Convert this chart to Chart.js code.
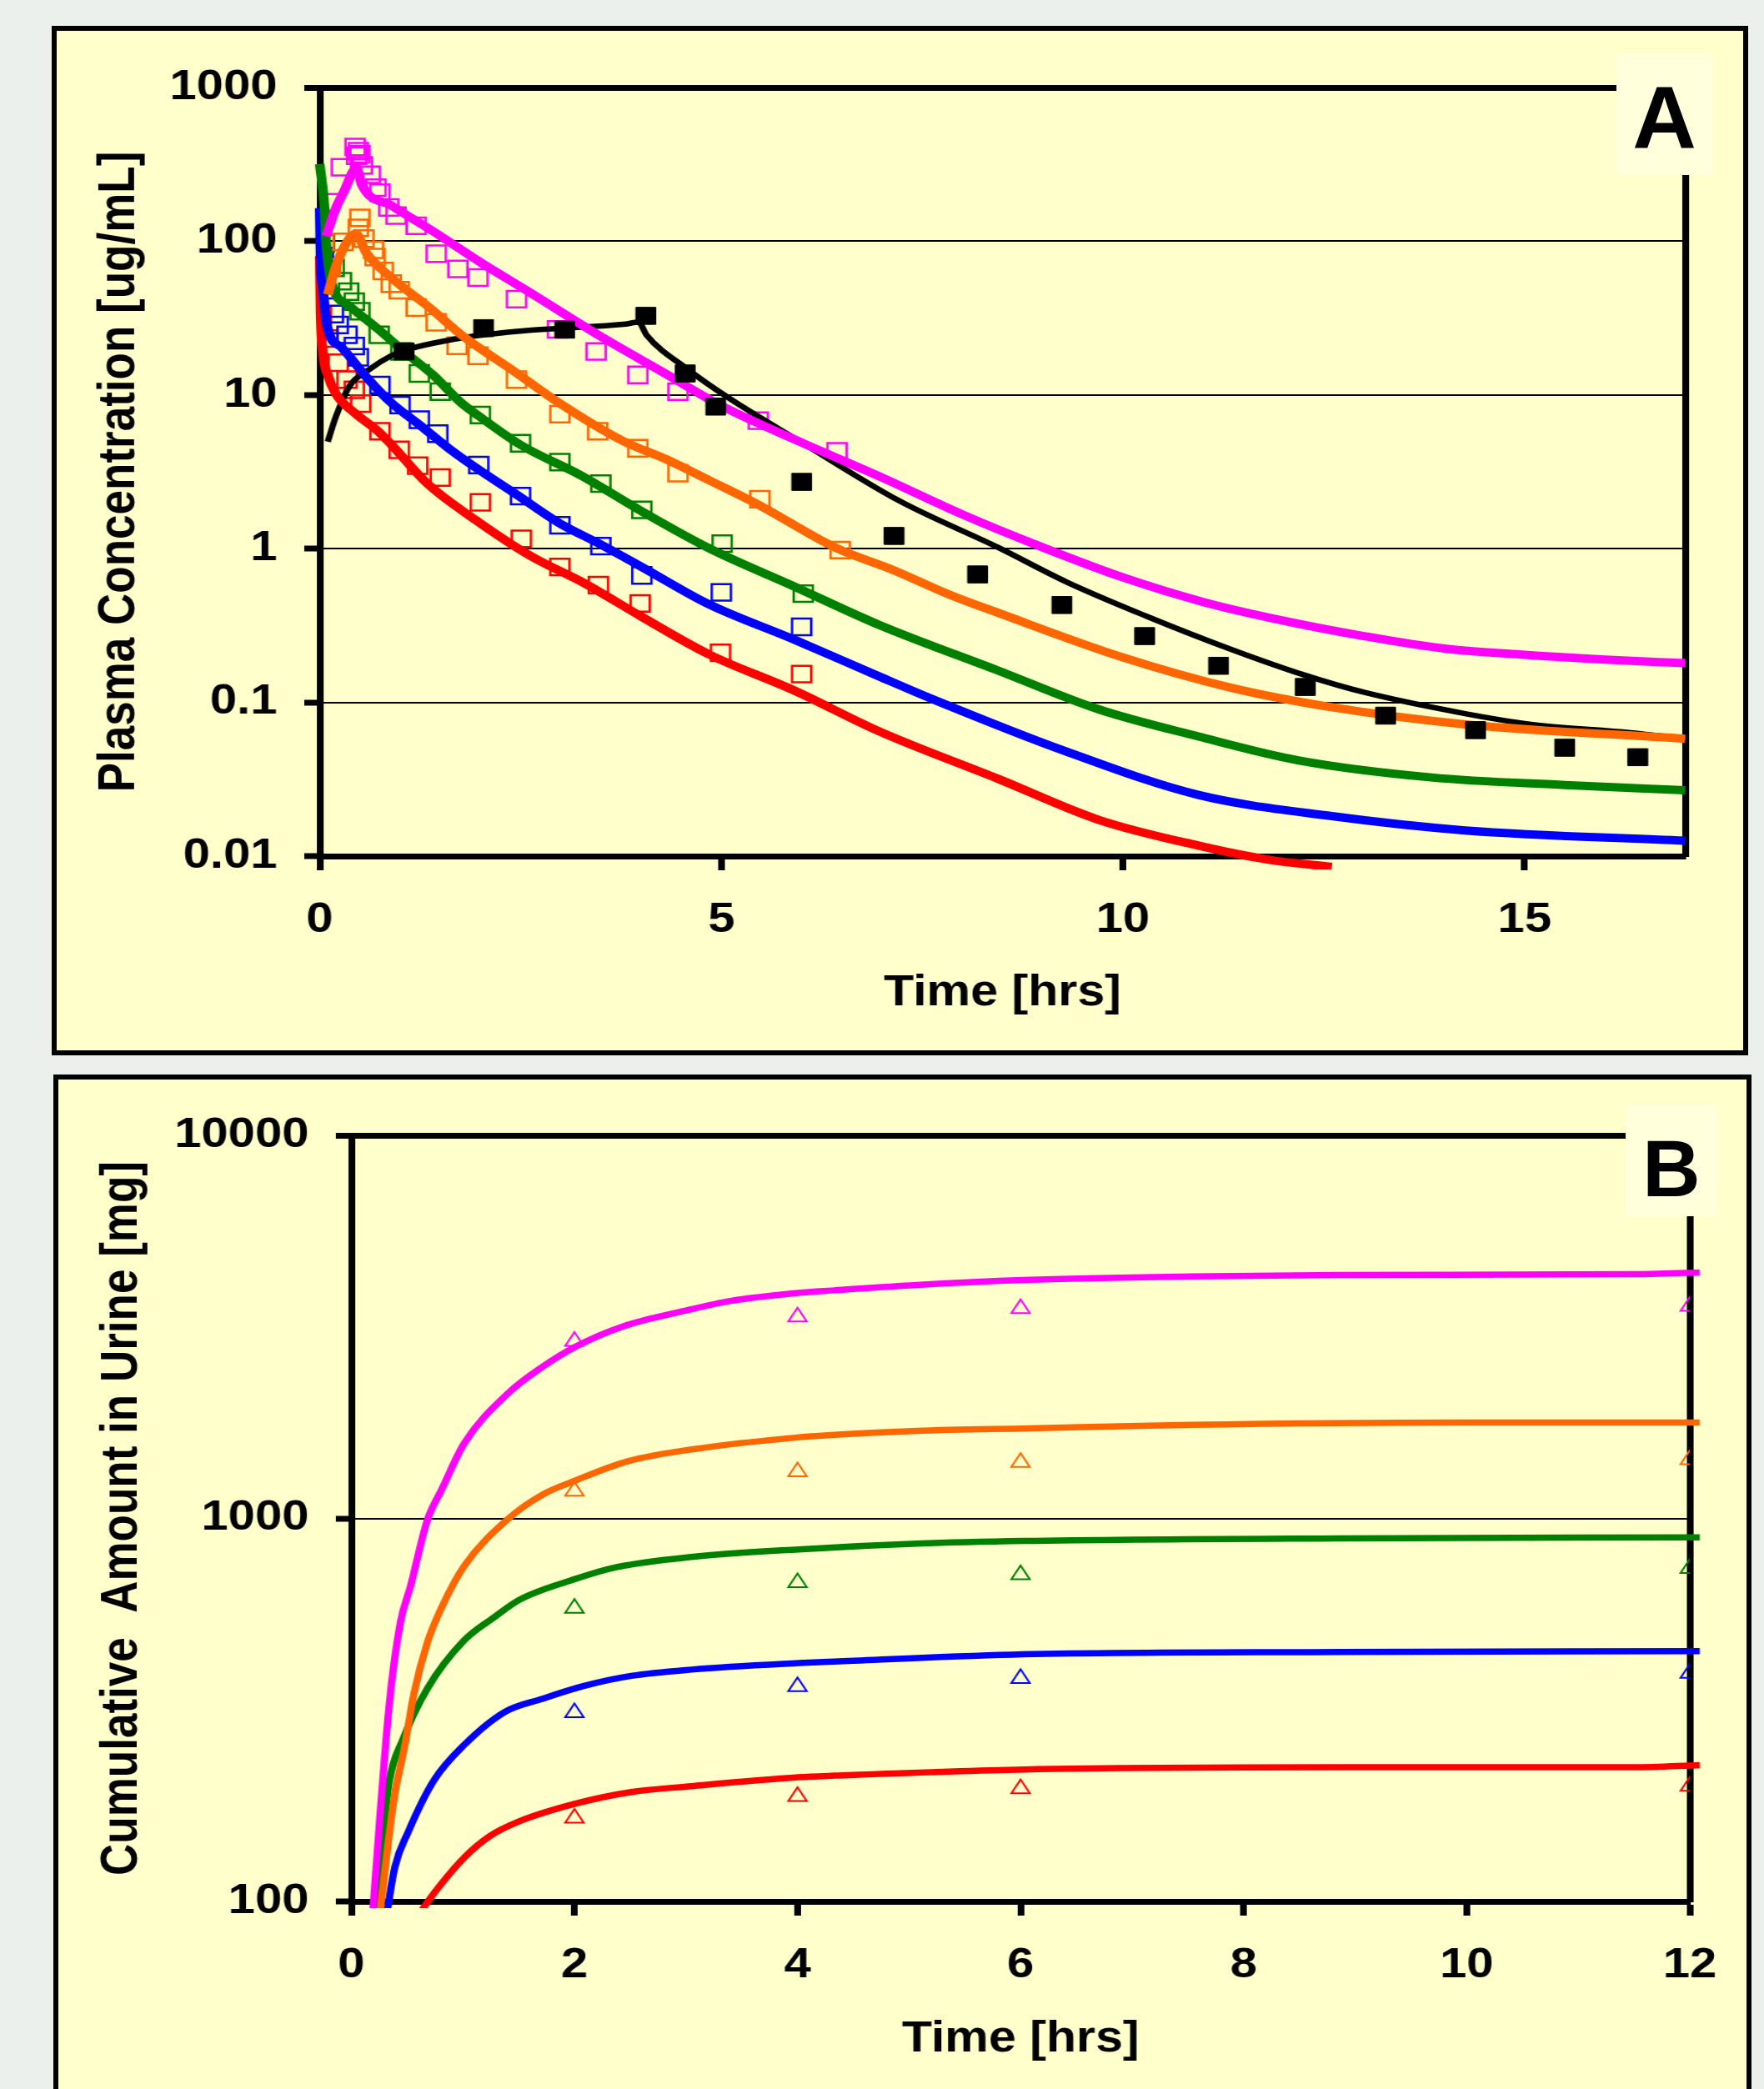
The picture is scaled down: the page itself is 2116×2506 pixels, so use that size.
<!DOCTYPE html>
<html>
<head>
<meta charset="utf-8">
<script src="https://cdn.jsdelivr.net/npm/chart.js@4.4.1/dist/chart.umd.min.js"></script>
<style>
  html, body { margin: 0; padding: 0; }
  body {
    width: 2116px; height: 2506px; overflow: hidden; position: relative;
    background: #ebf0ed;
    font-family: "Liberation Sans", Arial, sans-serif;
  }
  .panel { position: absolute; box-sizing: border-box; border: 6px solid #000; background: #ffffcc; }
  #panelA { left: 62px; top: 31px; width: 2035px; height: 1235px; }
  #panelB { left: 64px; top: 1289px; width: 2037px; height: 1300px; }
  /* the original figure is stretched sideways, so the canvases are too */
  .panel canvas { position: absolute; left: 0; top: 0; transform-origin: 0 0; transform: scaleX(1.16); }
  .tag { position: absolute; z-index: 5; background: #ffffdc; color: #000; font-weight: bold; text-align: center; }
  #tagA { left: 1939px; top: 63px; width: 115px; height: 147px; font-size: 106px; line-height: 157px; }
  #tagB { left: 1950px; top: 1325px; width: 110px; height: 134px; font-size: 96px; line-height: 153px; }
</style>
</head>
<body>
<div class="panel" id="panelA"><canvas id="chartA" width="1744" height="1223"></canvas></div>
<div class="panel" id="panelB"><canvas id="chartB" width="1746" height="1211"></canvas></div>
<div class="tag" id="tagA">A</div>
<div class="tag" id="tagB">B</div>

<script>
// ---------- PANEL A DATA (plasma concentration, ug/mL) ----------
const xTicksA = [0, 5, 10, 15];
const xLabelsA = ["0", "5", "10", "15"];
const yTicksA = [0.01, 0.1, 1, 10, 100, 1000];
const yLabelsA = ["0.01", "0.1", "1", "10", "100", "1000"];

// simulated curves
const magentaSimT = [0.08, 0.2, 0.3, 0.46, 0.52, 0.9, 1.4, 2.0, 2.6, 3.5, 4.3, 5.0, 6.0, 7.0, 8.0, 9.0, 10.0, 11.0, 12.0, 13.0, 14.0, 15.0, 16.0, 17.0];
const magentaSimC = [108, 164, 210, 300, 235, 170, 117, 73, 47, 24, 13.8, 8.5, 4.9, 2.9, 1.67, 1.02, 0.65, 0.45, 0.34, 0.27, 0.224, 0.204, 0.19, 0.18];
const orangeSimT = [0.1, 0.2, 0.3, 0.45, 0.58, 0.89, 1.38, 1.79, 2.4, 2.99, 3.78, 4.32, 4.84, 5.47, 6.43, 7.13, 7.85, 8.46, 9.95, 11.36, 12.6, 14.26, 17];
const orangeSimC = [45, 68, 91, 112, 84, 58, 36.5, 24, 14.5, 8.8, 5.0, 3.8, 2.8, 1.92, 1.01, 0.73, 0.5, 0.38, 0.2, 0.124, 0.093, 0.072, 0.058];
const greenSimT = [0, 0.06, 0.08, 0.15, 0.37, 0.72, 1.07, 1.41, 1.76, 1.98, 2.51, 3.25, 4.05, 4.84, 5.9, 6.96, 8.46, 9.7, 10.94, 12.18, 13.84, 15.5, 17];
const greenSimC = [318, 164, 99, 53, 38, 27, 18.8, 13.5, 8.9, 7.3, 4.7, 3.0, 1.7, 1.01, 0.57, 0.32, 0.16, 0.09, 0.06, 0.042, 0.0325, 0.029, 0.0268];
const blueSimT = [0, 0.01, 0.04, 0.1, 0.27, 0.62, 0.89, 1.24, 1.59, 1.93, 2.45, 2.97, 3.49, 4.01, 4.84, 5.9, 6.96, 7.63, 9.29, 10.94, 12.6, 14.26, 17];
const blueSimC = [164, 80, 49, 27, 20.4, 12.4, 8.9, 6.4, 4.56, 3.4, 2.25, 1.48, 1.07, 0.76, 0.436, 0.257, 0.148, 0.105, 0.048, 0.025, 0.0182, 0.0147, 0.0126];
const redSimT = [0, 0.01, 0.04, 0.1, 0.2, 0.44, 0.72, 0.89, 1.34, 1.93, 2.62, 3.31, 4.01, 4.84, 5.9, 6.96, 8.46, 9.7, 10.94, 11.8, 12.6];
const redSimC = [80, 35, 18.8, 13.5, 10.2, 7.6, 5.85, 4.76, 2.65, 1.55, 0.9, 0.59, 0.36, 0.206, 0.12, 0.065, 0.0316, 0.0172, 0.0117, 0.0095, 0.0085];
const blackSimT = [0.1, 0.2, 0.37, 0.62, 0.89, 1.07, 1.41, 1.93, 2.55, 2.99, 3.78, 3.97, 4.07, 4.58, 5.1, 5.98, 7.22, 8.46, 9.29, 10.28, 11.36, 12.27, 13.01, 14.26, 15.08, 16.32, 17];
const blackSimC = [4.96, 7.2, 11.4, 14.7, 18, 19.6, 21.7, 24.2, 26.2, 27.1, 28.8, 29.7, 24.5, 14.7, 9.5, 4.98, 2.04, 1.01, 0.61, 0.366, 0.22, 0.15, 0.116, 0.0845, 0.072, 0.0635, 0.058];

// observed points
const magentaObsT = [0.12, 0.27, 0.44, 0.46, 0.48, 0.5, 0.53, 0.63, 0.7, 0.75, 0.86, 0.95, 1.2, 1.45, 1.72, 1.97, 2.45, 2.96, 3.44, 3.96, 4.46, 5.46, 6.44];
const magentaObsC = [179, 303, 410, 360, 385, 368, 312, 271, 223, 207, 166, 147, 126, 83, 66, 58, 42, 26.7, 19.2, 13.5, 10.5, 6.8, 4.3];
const orangeObsT = [0.13, 0.29, 0.48, 0.5, 0.55, 0.67, 0.69, 0.79, 0.89, 0.99, 1.2, 1.45, 1.71, 1.97, 2.45, 2.99, 3.46, 3.96, 4.46, 5.48, 6.48];
const orangeObsC = [68, 99, 122, 142, 104, 88, 79, 64, 53, 48, 37, 29.7, 20.9, 18, 12.6, 7.5, 5.8, 4.5, 3.1, 2.1, 0.98];
const greenObsT = [0.06, 0.18, 0.27, 0.36, 0.43, 0.5, 0.74, 1.01, 1.24, 1.5, 2.0, 2.5, 2.99, 3.5, 4.01, 5.01, 6.02];
const greenObsC = [97, 67, 55, 47, 40.5, 35, 24.6, 19.2, 13.8, 10.5, 7.4, 4.85, 3.66, 2.65, 1.79, 1.08, 0.51];
const blueObsT = [0.045, 0.05, 0.17, 0.23, 0.34, 0.43, 0.48, 0.75, 1.0, 1.24, 1.47, 1.98, 2.5, 2.99, 3.5, 4.01, 5.0, 6.0];
const blueObsC = [80, 48, 33.6, 28.5, 24.6, 20.8, 17.6, 11.6, 8.6, 6.9, 5.6, 3.5, 2.2, 1.42, 1.04, 0.67, 0.52, 0.31];
const redObsT = [0.02, 0.1, 0.23, 0.34, 0.43, 0.51, 0.75, 0.99, 1.22, 1.5, 2.0, 2.51, 2.99, 3.47, 3.99, 4.99, 6.0];
const redObsC = [33, 23.3, 16.2, 12.6, 10.8, 8.8, 5.8, 4.4, 3.47, 2.9, 2.0, 1.16, 0.76, 0.58, 0.44, 0.21, 0.153];
const blackObsT = [1.05, 2.04, 3.05, 4.06, 4.55, 4.93, 6.0, 7.15, 8.19, 9.24, 10.27, 11.19, 12.27, 13.27, 14.39, 15.5, 16.41];
const blackObsC = [19.2, 27.2, 26.6, 32.7, 13.8, 8.4, 2.72, 1.21, 0.68, 0.43, 0.27, 0.173, 0.126, 0.082, 0.066, 0.0507, 0.044];

// ---------- PANEL B DATA (cumulative amount in urine, mg) ----------
const xTicksB = [0, 2, 4, 6, 8, 10, 12];
const xLabelsB = ["0", "2", "4", "6", "8", "10", "12"];
const yTicksB = [100, 1000, 10000];
const yLabelsB = ["100", "1000", "10000"];

const magentaUrT = [0.18, 0.34, 0.44, 0.53, 0.68, 0.81, 1.01, 1.41, 1.71, 2.01, 2.44, 2.98, 3.41, 4.01, 4.33, 5.07, 6.03, 7.52, 8.85, 11.5, 12.09];
const magentaUrA = [85, 328, 536, 665, 988, 1190, 1567, 2128, 2484, 2808, 3175, 3479, 3701, 3881, 3940, 4070, 4190, 4280, 4320, 4340, 4385];
const orangeUrT = [0.24, 0.38, 0.48, 0.56, 0.68, 0.81, 1.01, 1.41, 1.71, 2.01, 2.48, 3.08, 3.98, 4.33, 5.07, 6.08, 7.52, 9.91, 12.09];
const orangeUrA = [85, 183, 256, 348, 473, 586, 750, 1000, 1152, 1256, 1410, 1518, 1625, 1652, 1692, 1718, 1755, 1780, 1780];
const greenUrT = [0.19, 0.26, 0.34, 0.46, 0.68, 1.01, 1.28, 1.51, 2.01, 2.38, 3.05, 4.01, 5.07, 6.03, 8.85, 12.09];
const greenUrA = [90, 130, 206, 264, 359, 480, 552, 614, 695, 746, 793, 830, 859, 873, 887, 892];
const blueUrT = [0.31, 0.39, 0.51, 0.74, 1.01, 1.38, 1.71, 2.08, 2.51, 3.05, 4.01, 4.33, 5.92, 8.85, 12.09];
const blueUrA = [90, 123, 152, 207, 256, 313, 338, 365, 388, 403, 419, 423, 441, 448, 450];
const redUrT = [0.6, 0.74, 1.01, 1.24, 1.51, 2.01, 2.51, 3.05, 4.01, 4.33, 6.03, 8.85, 11.5, 12.09];
const redUrA = [92, 105, 130, 148, 162, 180, 193, 200, 211, 213, 221, 224, 224, 227];

const urineObsT = [2, 4, 6, 12];
const magentaUrObs = [2900, 3357, 3530, 3580];
const orangeUrObs = [1178, 1324, 1400, 1423];
const greenUrObs = [583, 680, 713, 740];
const blueUrObs = [311, 364, 382, 394];
const redUrObs = [165, 188, 197, 200];

// ---------- HELPERS ----------
const MAGENTA = "#ff00ff", ORANGE = "#ff6600", GREEN = "#008000", BLUE = "#0000ff", RED = "#ff0000";
const FONT = '"Liberation Sans", Arial, sans-serif';
Chart.defaults.font.family = FONT;
Chart.defaults.color = "#000";

function pts(t, v) {
  return t.map((x, i) => ({ x: x, y: v[i] }));
}

function simLine(t, v, color, width, clip) {
  return {
    type: "line",
    data: pts(t, v),
    borderColor: color,
    borderWidth: width,
    pointRadius: 0,
    fill: false,
    cubicInterpolationMode: "monotone",
    clip: clip,
    order: 1
  };
}

function obsPoints(t, v, color, style, radius, filled, bw) {
  return {
    type: "scatter",
    data: pts(t, v),
    pointStyle: style,
    pointRadius: radius,
    pointBorderColor: color,
    pointBorderWidth: bw,
    pointBackgroundColor: filled ? color : "rgba(0,0,0,0)",
    order: filled ? 0 : 2
  };
}

// common pieces of both panels
function baseOptions(p) {
  return {
    responsive: false,
    animation: false,
    devicePixelRatio: 1,
    events: [],
    layout: { padding: { top: p.top, left: 0, right: 0, bottom: 0 } },
    plugins: { legend: { display: false }, tooltip: { enabled: false } },
    scales: {
      x: {
        type: "linear", min: p.xMin, max: p.xMax,
        afterBuildTicks: (ax) => { ax.ticks = p.xTicks.map(v => ({ value: v })); },
        afterFit: (ax) => { ax.height = p.xHeight; },
        grid: { display: true, drawOnChartArea: false, drawTicks: true, tickLength: 17, tickWidth: 7, tickColor: "#000" },
        border: { display: true, width: 7, color: "#000" },
        ticks: {
          autoSkip: false, maxRotation: 0, padding: 30,
          font: { size: 50, weight: "bold" },
          callback: (v, i) => p.xLabels[i]
        },
        title: { display: true, text: "Time [hrs]", font: { size: 51, weight: "bold" }, padding: { top: 0, bottom: p.xTitlePad } }
      },
      y: {
        type: "logarithmic", min: p.yMin, max: p.yMax,
        afterBuildTicks: (ax) => { ax.ticks = p.yTicks.map(v => ({ value: v })); },
        afterFit: (ax) => { ax.width = p.yWidth; },
        grid: {
          display: true, drawOnChartArea: true, drawTicks: true, color: "#000",
          lineWidth: (c) => c.tick.value === p.yMax ? 7 : (c.tick.value === p.yMin ? 0 : 2),
          tickLength: 16, tickWidth: 7, tickColor: "#000"
        },
        border: { display: true, width: 7, color: "#000" },
        ticks: {
          autoSkip: false, padding: 28,
          font: { size: 50, weight: "bold" },
          callback: (v, i) => p.yLabels[i]
        },
        title: { display: true, text: p.yTitle, font: { size: 53, weight: "bold" }, padding: { top: p.yTitlePad, bottom: 0 } }
      },
      // right-hand frame line
      y2: {
        type: "linear", position: "right", display: true,
        afterFit: (ax) => { ax.width = p.y2Width; },
        grid: { display: false, drawTicks: false },
        ticks: { display: false },
        border: { display: true, width: 7, color: "#000" }
      }
    }
  };
}

// ---------- PANEL A ----------
const clipA = { left: 6, top: 6, right: 6, bottom: 16 };
new Chart(document.getElementById("chartA"), {
  type: "scatter",
  data: {
    datasets: [
      simLine(magentaSimT, magentaSimC, MAGENTA, 10, clipA),
      simLine(orangeSimT, orangeSimC, ORANGE, 10, clipA),
      simLine(greenSimT, greenSimC, GREEN, 10, clipA),
      simLine(blueSimT, blueSimC, BLUE, 10, clipA),
      simLine(redSimT, redSimC, RED, 10, clipA),
      simLine(blackSimT, blackSimC, "#000", 6.5, clipA),
      obsPoints(magentaObsT, magentaObsC, MAGENTA, "rect", 14, false, 2.5),
      obsPoints(orangeObsT, orangeObsC, ORANGE, "rect", 14, false, 2.5),
      obsPoints(greenObsT, greenObsC, GREEN, "rect", 14, false, 2.5),
      obsPoints(blueObsT, blueObsC, BLUE, "rect", 14, false, 2.5),
      obsPoints(redObsT, redObsC, RED, "rect", 14, false, 2.5),
      obsPoints(blackObsT, blackObsC, "#000", "rect", 14.5, true, 1)
    ]
  },
  options: baseOptions({
    top: 68, xMin: 0, xMax: 17, xTicks: xTicksA, xLabels: xLabelsA, xHeight: 233, xTitlePad: 37,
    yMin: 0.01, yMax: 1000, yTicks: yTicksA, yLabels: yLabelsA, yWidth: 272, y2Width: 60,
    yTitle: "Plasma Concentration [ug/mL]", yTitlePad: 34
  })
});

// ---------- PANEL B ----------
const clipB = { left: 4, top: 4, right: 14, bottom: 8 };
new Chart(document.getElementById("chartB"), {
  type: "scatter",
  data: {
    datasets: [
      simLine(magentaUrT, magentaUrA, MAGENTA, 7.5, clipB),
      simLine(orangeUrT, orangeUrA, ORANGE, 7.5, clipB),
      simLine(greenUrT, greenUrA, GREEN, 7.5, clipB),
      simLine(blueUrT, blueUrA, BLUE, 7.5, clipB),
      simLine(redUrT, redUrA, RED, 7.5, clipB),
      obsPoints(urineObsT, magentaUrObs, MAGENTA, "triangle", 11, false, 2),
      obsPoints(urineObsT, orangeUrObs, ORANGE, "triangle", 11, false, 2),
      obsPoints(urineObsT, greenUrObs, GREEN, "triangle", 11, false, 2),
      obsPoints(urineObsT, blueUrObs, BLUE, "triangle", 11, false, 2),
      obsPoints(urineObsT, redUrObs, RED, "triangle", 11, false, 2)
    ]
  },
  options: baseOptions({
    top: 67, xMin: 0, xMax: 12, xTicks: xTicksB, xLabels: xLabelsB, xHeight: 225, xTitlePad: 28,
    yMin: 100, yMax: 10000, yTicks: yTicksB, yLabels: yLabelsB, yWidth: 303, y2Width: 59,
    yTitle: "Cumulative  Amount in Urine [mg]", yTitlePad: 35
  })
});
</script>
</body>
</html>
